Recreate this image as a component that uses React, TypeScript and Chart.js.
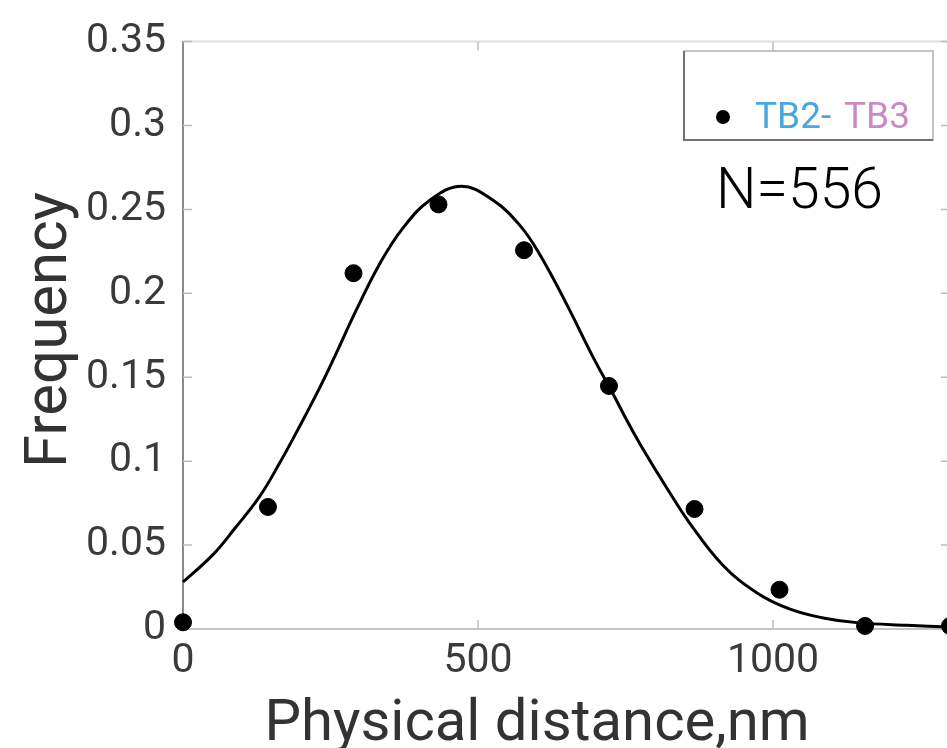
import React, { useEffect, useRef } from "react";
import { Chart, registerables } from "chart.js";

Chart.register(...registerables);

// Measured histogram points (bin centres, nm) and frequencies
const distanceBins = [0, 144, 289, 433, 578, 722, 867, 1011, 1156, 1300];
const frequencies = [0.004, 0.0727, 0.212, 0.253, 0.2257, 0.1448, 0.0715, 0.0234, 0.0018, 0.0018];

// Fitted curve
const fitDistance = [0, 50, 88, 130, 164, 198, 232, 254, 295, 334, 373, 419, 472, 525, 571, 605, 651, 695, 729, 752, 775, 820, 859, 915, 973, 1029, 1085, 1142, 1227, 1300];
const fitFrequency = [0.028, 0.044, 0.06, 0.079, 0.099, 0.121, 0.144, 0.16, 0.191, 0.218, 0.239, 0.2556, 0.2638, 0.2556, 0.2405, 0.223, 0.193, 0.162, 0.14, 0.1245, 0.11, 0.084, 0.063, 0.038, 0.0215, 0.0118, 0.0066, 0.0038, 0.0022, 0.0012];

const xTickValues = [0, 500, 1000];
const yTickStep = 0.05;

const xTitle = "Physical distance,nm";
const yTitle = "Frequency";
const legendPart1 = "TB2-";
const legendPart2 = "TB3";
const annotationText = "N=556";

const FONT = "Roboto, 'Noto Sans', sans-serif";

const overlay = {
  id: "overlay",
  beforeDatasetsDraw(chart: any) {
    const ctx = chart.ctx;
    const { left, right, top, bottom } = chart.chartArea;
    const xs = chart.scales.x;
    const ys = chart.scales.y;
    ctx.save();
    ctx.strokeStyle = "#e0e0e0";
    ctx.lineWidth = 2;
    ctx.beginPath();
    ctx.moveTo(left, top);
    ctx.lineTo(right, top);
    ctx.moveTo(right, top);
    ctx.lineTo(right, bottom);
    ctx.stroke();
    ctx.strokeStyle = "#bdbdbd";
    ctx.lineWidth = 1.5;
    ctx.beginPath();
    ys.ticks.forEach((t: any) => {
      if (t.value <= 0) return;
      const py = ys.getPixelForValue(t.value);
      ctx.moveTo(left, py);
      ctx.lineTo(left + 9, py);
      ctx.moveTo(right, py);
      ctx.lineTo(right - 9, py);
    });
    xs.ticks.forEach((t: any) => {
      if (t.value <= 0) return;
      const px = xs.getPixelForValue(t.value);
      ctx.moveTo(px, bottom);
      ctx.lineTo(px, bottom - 9);
      ctx.moveTo(px, top);
      ctx.lineTo(px, top + 9);
    });
    ctx.stroke();
    ctx.restore();
  },
  afterDraw(chart: any) {
    const ctx = chart.ctx;
    ctx.save();
    ctx.fillStyle = "#ffffff";
    ctx.fillRect(684, 51, 249, 89);
    ctx.strokeStyle = "#b0b0b0";
    ctx.lineWidth = 1.5;
    ctx.strokeRect(684, 51, 249, 89);
    ctx.strokeStyle = "#707070";
    ctx.lineWidth = 2;
    ctx.beginPath();
    ctx.moveTo(684, 51);
    ctx.lineTo(684, 140);
    ctx.lineTo(933, 140);
    ctx.stroke();
    ctx.fillStyle = "#000";
    ctx.beginPath();
    ctx.arc(723, 117, 7, 0, Math.PI * 2);
    ctx.fill();
    ctx.font = `400 37px ${FONT}`;
    ctx.textBaseline = "alphabetic";
    ctx.textAlign = "left";
    ctx.fillStyle = "#4aa7dc";
    ctx.fillText(legendPart1, 755, 128);
    ctx.fillStyle = "#c88ac5";
    ctx.fillText(legendPart2, 844, 128);
    ctx.fillStyle = "#000";
    ctx.font = `300 57px ${FONT}`;
    ctx.fillText(annotationText, 716, 208);
    ctx.fillStyle = "#333";
    ctx.font = `400 58px ${FONT}`;
    ctx.textAlign = "center";
    ctx.fillText(xTitle, 537, 740);
    ctx.translate(66, 330);
    ctx.rotate(-Math.PI / 2);
    ctx.font = `400 60px ${FONT}`;
    ctx.fillText(yTitle, 0, 0);
    ctx.restore();
  },
};

export default function App() {
  const ref = useRef<HTMLCanvasElement>(null);
  useEffect(() => {
    if (!ref.current) return;
    const chart = new Chart(ref.current, {
      type: "scatter",
      data: {
        datasets: [
          {
            label: "fit",
            data: fitDistance.map((x, i) => ({ x, y: fitFrequency[i] })),
            showLine: true,
            borderColor: "#000",
            borderWidth: 3,
            pointRadius: 0,
            tension: 0.4,
            clip: false as any,
            order: 2,
          } as any,
          {
            label: `${legendPart1} ${legendPart2}`,
            data: distanceBins.map((x, i) => ({ x, y: frequencies[i] })),
            backgroundColor: "#000",
            borderColor: "#000",
            pointRadius: 8.5,
            pointHoverRadius: 8.5,
            showLine: false,
            clip: false as any,
            order: 1,
          } as any,
        ],
      },
      options: {
        animation: false,
        responsive: false,
        devicePixelRatio: 1,
        layout: { padding: { left: 0, top: 32, right: 10, bottom: 0 } },
        plugins: { legend: { display: false }, tooltip: { enabled: false } },
        scales: {
          x: {
            type: "linear",
            min: 0,
            max: 1300,
            afterBuildTicks: (s: any) => {
              s.ticks = xTickValues.map((v) => ({ value: v }));
            },
            afterFit: (s: any) => {
              s.height = 119;
            },
            grid: { display: false, drawTicks: false },
            border: { display: true, color: "#c4c4c4", width: 2 },
            ticks: {
              padding: 8,
              color: "#3a3a3a",
              font: { family: FONT, size: 41, weight: "400" as any },
              maxRotation: 0,
              autoSkip: false,
              callback: (v: any) => String(v),
            },
          },
          y: {
            type: "linear",
            min: 0,
            max: 0.35,
            ticks: {
              stepSize: yTickStep,
              padding: 17,
              color: "#3a3a3a",
              font: { family: FONT, size: 41, weight: "400" as any },
              callback: (v: any) => String(Math.round(Number(v) * 100) / 100),
            },
            afterFit: (s: any) => {
              s.width = 183;
            },
            grid: { display: false, drawTicks: false },
            border: { display: true, color: "#8a8a8a", width: 2 },
          },
        },
      },
      plugins: [overlay],
    });
    return () => chart.destroy();
  }, []);
  return (
    <div style={{ position: "absolute", left: 0, top: 0, width: 947, height: 748, overflow: "hidden", background: "#fff" }}>
      <canvas ref={ref} width={960} height={748} style={{ display: "block" }} />
    </div>
  );
}
